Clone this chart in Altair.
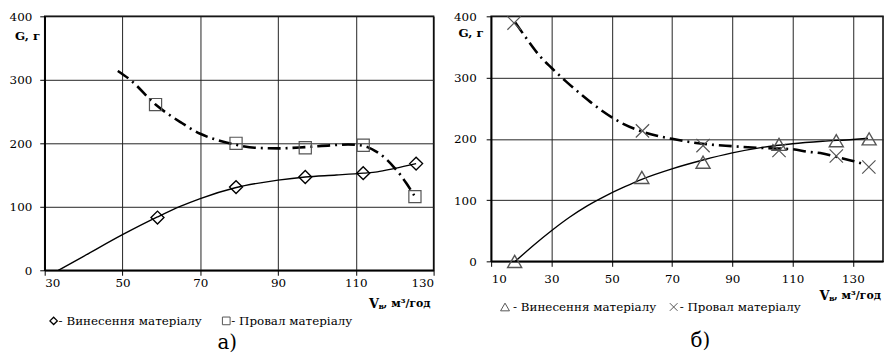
import altair as alt
import pandas as pd

FONT = "DejaVu Serif"

# ---------------- Panel а) ----------------
a_x_ticks = [30, 50, 70, 90, 110, 130]
a_vyn_x = [59.0, 79.2, 97.0, 111.9, 125.5]
a_vyn_y = [83, 131, 147, 153, 168]
a_prov_x = [58.5, 79.2, 97.0, 111.9, 125.2]
a_prov_y = [261, 200, 193, 197, 116]
a_vyn_fit_x = [33.5, 40, 50, 59, 65, 70, 79, 90, 97, 105, 112, 115.5, 120, 125.5]
a_vyn_fit_y = [0, 22, 56, 84, 101, 113, 130, 142, 147, 150, 153, 155, 160.5, 168]
a_prov_fit_x = [48.8, 52, 58.5, 65, 70, 75, 79, 84, 90, 97, 104, 108, 111, 113, 116, 118, 120, 121.5, 123, 125]
a_prov_fit_y = [314, 300, 261, 233, 215, 204, 198, 193, 192, 194, 197, 198, 197, 194, 184, 174, 161, 150, 137, 118]

# ---------------- Panel б) ----------------
b_x_ticks = [10, 30, 50, 70, 90, 110, 130]
b_vyn_x = [17.8, 60.0, 80.3, 105.5, 124.5, 135.4]
b_vyn_y = [0, 137, 162, 191, 197, 200]
b_prov_x = [17.6, 60.2, 80.3, 105.5, 124.5, 135.3]
b_prov_y = [389, 213, 189, 181, 172, 154]
b_vyn_fit_x = [18, 24, 30, 36, 42, 48, 54, 60, 70, 80, 90, 100, 110, 120, 130, 135]
b_vyn_fit_y = [0, 26, 50, 72, 91, 107, 121, 134, 151, 165, 177, 186, 192, 196, 199, 201]
b_prov_fit_x = [18, 22, 26, 30, 35, 40, 47, 54, 60, 65, 70, 80, 90, 100, 110, 115, 120, 125, 130, 134]
b_prov_fit_y = [390, 362, 336, 316, 293, 272, 245, 224, 212, 205, 200, 192, 188, 185, 183, 179, 176, 170, 164, 158]

y_ticks = [0, 100, 200, 300, 400]

legend_vyn = "- Винесення матеріалу"
legend_prov = "- Провал матеріалу"
y_title = "G, г"

one = pd.DataFrame({"k": [0]})
CROSS = "M-1,-1L1,1M-1,1L1,-1"


def txt(s, x, y, size=12, bold=False, align="left", baseline="middle"):
    return alt.Chart(one).mark_text(
        text=s, font=FONT, fontSize=size, fontWeight="bold" if bold else "normal",
        align=align, baseline=baseline, color="black"
    ).encode(x=alt.value(x), y=alt.value(y))


def sym(shape, x, y, size, color, sw):
    return alt.Chart(one).mark_point(
        shape=shape, size=size, filled=False, stroke=color, strokeWidth=sw, opacity=1
    ).encode(x=alt.value(x), y=alt.value(y))


def xtitle(xr, y):
    # "Vв, м³/год" with subscript в, right-aligned at xr
    return [
        txt(", м³/год", xr, y, size=11, bold=True, align="right"),
        txt("в", xr - 47, y + 3, size=8, bold=True, align="right"),
        txt("V", xr - 52, y, size=13, bold=True, align="right"),
    ]


def panel(xdom, xticks, w, h, vyn_x, vyn_y, prov_x, prov_y, fvx, fvy, fpx, fpy,
          vshape, vsize, vcolor, pshape, psize, pcolor, xlabpad, ylabpad, ann):
    xs = alt.Scale(domain=xdom, nice=False, zero=False)
    ys = alt.Scale(domain=[0, 400], nice=False)
    xa = alt.Axis(values=xticks, title=None, grid=True, labelPadding=xlabpad)
    ya = alt.Axis(values=y_ticks, title=None, grid=True, labelPadding=ylabpad)

    fit_v = alt.Chart(pd.DataFrame({"x": fvx, "y": fvy})).mark_line(
        color="black", strokeWidth=1.4, interpolate="monotone"
    ).encode(x=alt.X("x:Q", scale=xs, axis=xa), y=alt.Y("y:Q", scale=ys, axis=ya))
    fit_p = alt.Chart(pd.DataFrame({"x": fpx, "y": fpy})).mark_line(
        color="black", strokeWidth=2.6, strokeDash=[13, 5, 2, 5], interpolate="monotone"
    ).encode(x=alt.X("x:Q", scale=xs, axis=xa), y=alt.Y("y:Q", scale=ys, axis=ya))
    pv = alt.Chart(pd.DataFrame({"x": vyn_x, "y": vyn_y})).mark_point(
        shape=vshape, size=vsize, filled=False, stroke=vcolor, strokeWidth=1.4, opacity=1
    ).encode(x=alt.X("x:Q", scale=xs, axis=xa), y=alt.Y("y:Q", scale=ys, axis=ya))
    pp = alt.Chart(pd.DataFrame({"x": prov_x, "y": prov_y})).mark_point(
        shape=pshape, size=psize, filled=False, stroke=pcolor, strokeWidth=1.2, opacity=1
    ).encode(x=alt.X("x:Q", scale=xs, axis=xa), y=alt.Y("y:Q", scale=ys, axis=ya))
    return alt.layer(fit_v, fit_p, pv, pp, *ann).properties(width=w, height=h)


left_ann = [
    txt(y_title, -30, 20, size=12, bold=True),
    *xtitle(389, 290),
    sym("diamond", 9, 307, 55, "black", 1.3),
    txt(legend_vyn, 14, 307, size=12),
    sym("square", 183, 307, 60, "#555", 1),
    txt(legend_prov, 188, 307, size=12),
    txt("а)", 184, 329, size=20, align="center"),
]
right_ann = [
    txt(y_title, -33, 17, size=12, bold=True),
    *xtitle(393, 282),
    sym("triangle-up", 14, 293, 80, "#555", 1),
    txt(legend_vyn, 22, 293, size=12),
    sym(CROSS, 184, 293, 60, "#555", 1),
    txt(legend_prov, 190, 293, size=12),
    txt("б)", 211, 327, size=20, align="center"),
]

left = panel([30, 130], a_x_ticks, 392, 256, a_vyn_x, a_vyn_y, a_prov_x, a_prov_y,
             a_vyn_fit_x, a_vyn_fit_y, a_prov_fit_x, a_prov_fit_y,
             "diamond", 170, "black", "square", 150, "#555", 2, 8, left_ann)
right = panel([10, 140], b_x_ticks, 395, 247, b_vyn_x, b_vyn_y, b_prov_x, b_prov_y,
              b_vyn_fit_x, b_vyn_fit_y, b_prov_fit_x, b_prov_fit_y,
              "triangle-up", 200, "#555", CROSS, 180, "#555", 7, 10, right_ann)

chart = alt.hconcat(left, right, spacing=17).configure_view(
    stroke="black", strokeWidth=1.5
).configure_axis(
    domainColor="black", domainWidth=1.5, gridColor="#222", gridWidth=1,
    tickColor="black", tickSize=5, labelFont=FONT, labelFontSize=12, labelColor="black"
).properties(padding={"left": 0, "top": 0, "right": 0, "bottom": 0})

chart.save("out.html", embed_options={"renderer": "svg", "actions": False})
